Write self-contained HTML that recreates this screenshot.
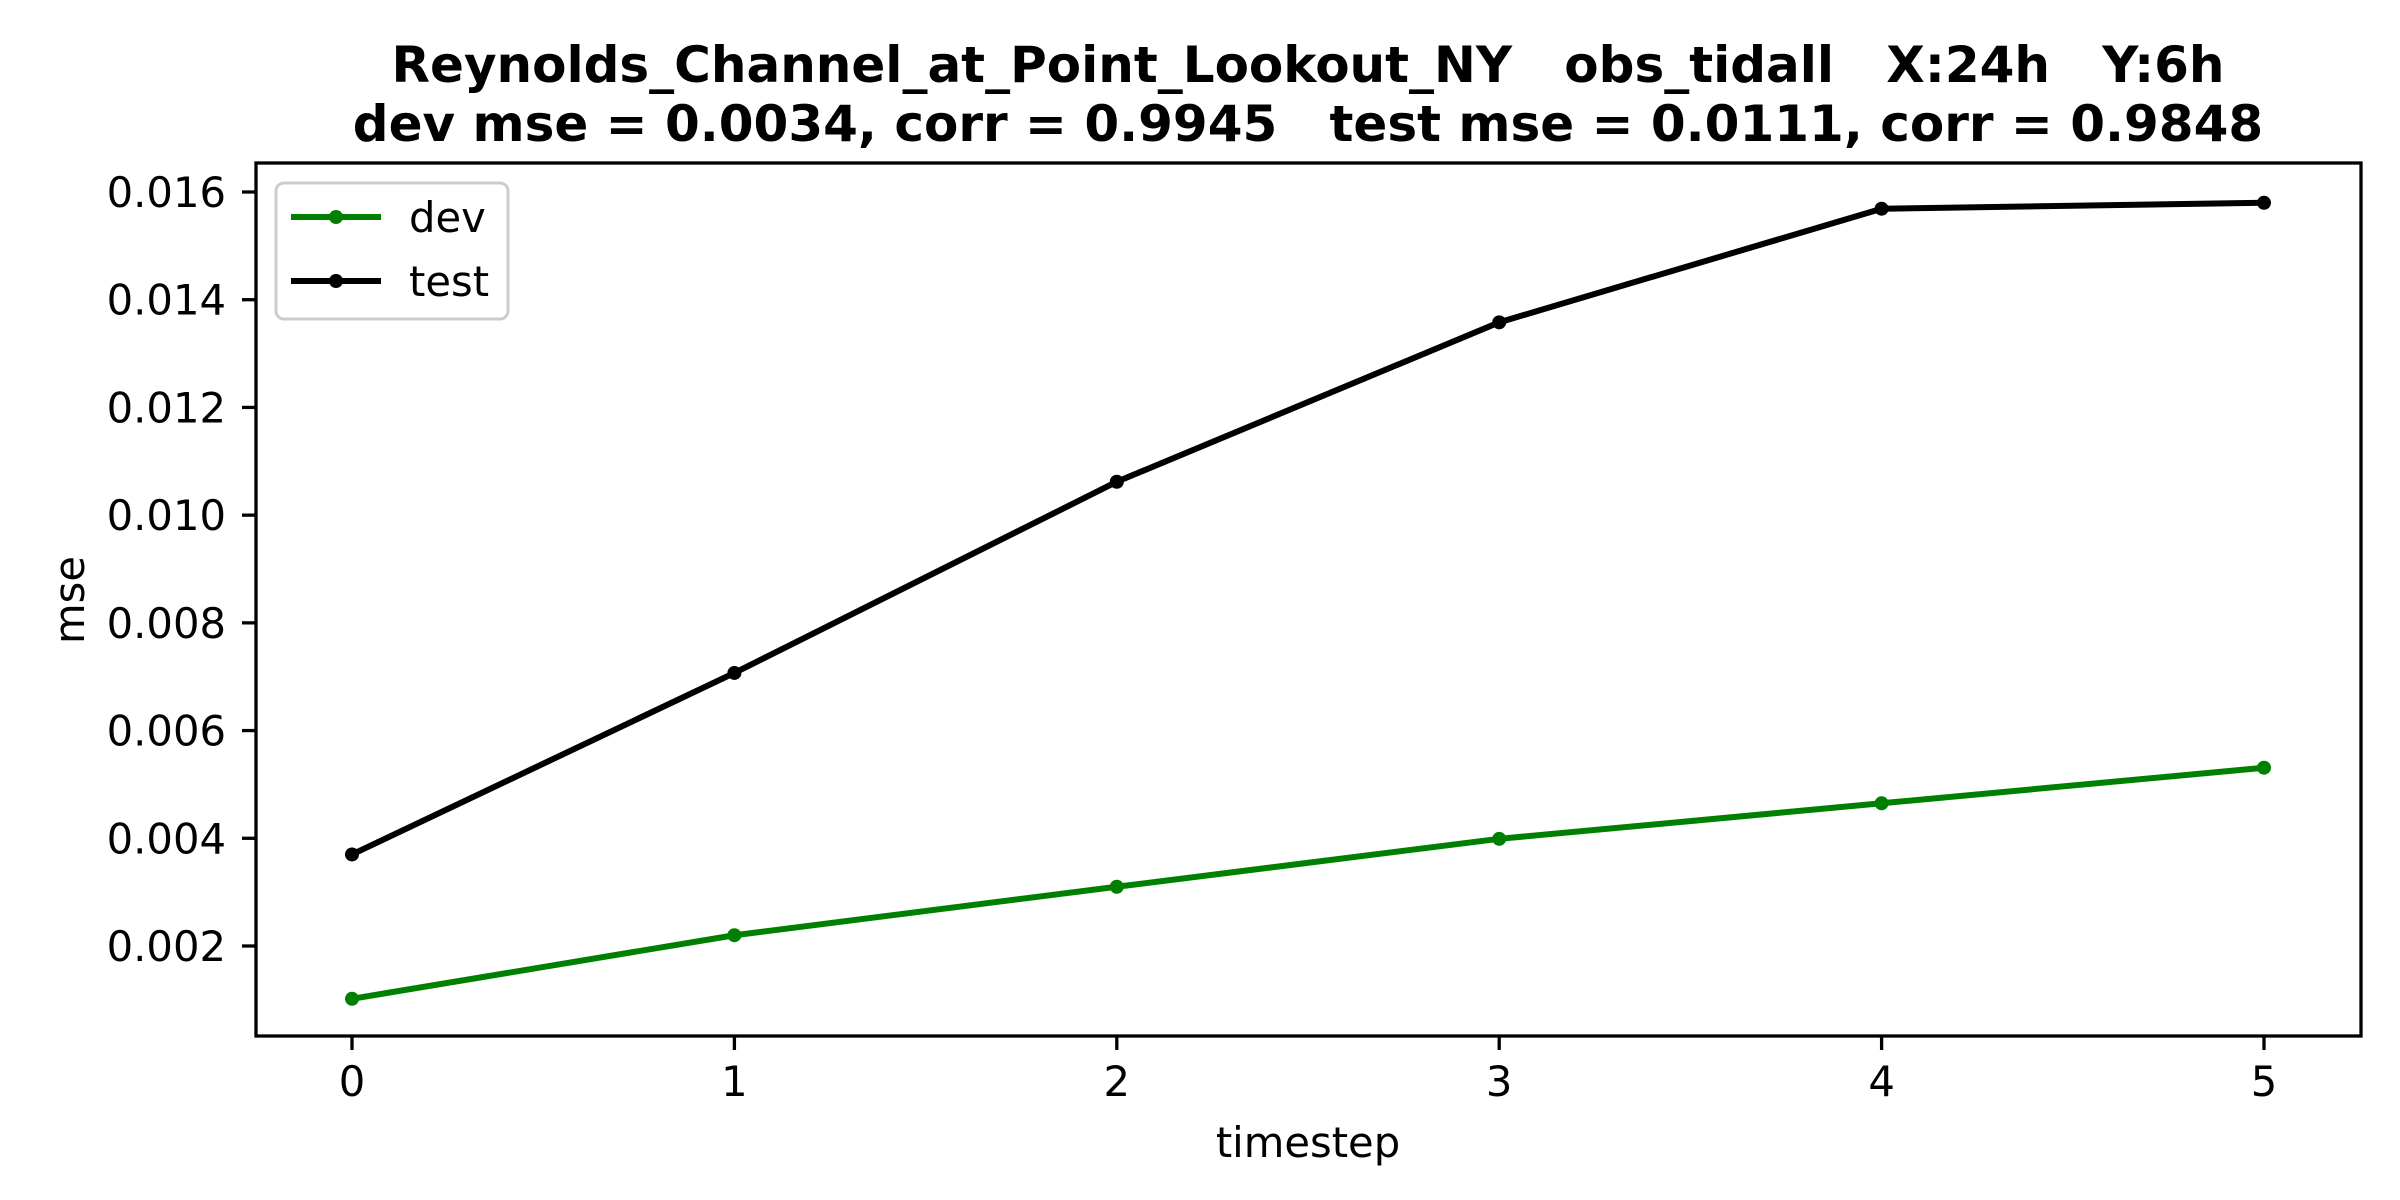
<!DOCTYPE html>
<html><head><meta charset="utf-8"><style>
html,body{margin:0;padding:0;background:#fff;}
svg{display:block;font-family:"DejaVu Sans","Liberation Sans",sans-serif;}
.pre{white-space:pre;}
</style></head><body>
<svg id="chart" width="2400" height="1200" viewBox="0 0 2400 1200">
<text class="pre" xml:space="preserve" x="1308" y="82" text-anchor="middle" font-size="50" font-weight="bold">Reynolds_Channel_at_Point_Lookout_NY   obs_tidall   X:24h   Y:6h</text>
<text class="pre" xml:space="preserve" x="1308" y="141" text-anchor="middle" font-size="50" font-weight="bold">dev mse = 0.0034, corr = 0.9945   test mse = 0.0111, corr = 0.9848</text>
<g id="axes"></g>
<rect x="256" y="163" width="2105" height="873" fill="none" stroke="#000" stroke-width="3.3"/>
<text x="1308" y="1157" text-anchor="middle" font-size="41.7">timestep</text>
<text transform="translate(84,600) rotate(-90)" text-anchor="middle" font-size="41.7">mse</text>
<g>
<rect x="276" y="183" width="232" height="136" rx="8" fill="#fff" fill-opacity="0.8" stroke="#ccc" stroke-width="3"/>
<g>
<line x1="291" y1="217" x2="381" y2="217" stroke="#008000" stroke-width="6"/><circle cx="336" cy="217" r="7" fill="#008000"/>
<text x="409" y="232" font-size="41.7">dev</text></g>
<g>
<line x1="291" y1="281" x2="381" y2="281" stroke="#000" stroke-width="6"/><circle cx="336" cy="281" r="7" fill="#000"/>
<text x="409" y="296" font-size="41.7">test</text></g>
</g>
</svg>
<script>
const timesteps=[0,1,2,3,4,5];
const devValues=[0.00102,0.0022,0.0031,0.00399,0.00465,0.00531];
const testValues=[0.0037,0.00707,0.01062,0.01358,0.01569,0.0158];
const yTicks=[0.002,0.004,0.006,0.008,0.010,0.012,0.014,0.016];
const yTickLabels=["0.002","0.004","0.006","0.008","0.010","0.012","0.014","0.016"];
const NS="http://www.w3.org/2000/svg";
const g=document.getElementById('axes');
function xs(v){return 352+(v-0)*(2264-352)/5;}
function ys(v){return 946-(v-0.002)*(946-192)/0.014;}
function mk(t,a){const e=document.createElementNS(NS,t);for(const k in a)e.setAttribute(k,a[k]);g.appendChild(e);return e;}
timesteps.forEach(t=>{
  const l=mk('line',{x1:xs(t),x2:xs(t),y1:1036,y2:1050,stroke:'#000','stroke-width':3.3});
  
  
  const tx=mk('text',{x:xs(t),y:1096,'text-anchor':'middle','font-size':41.7});tx.textContent=String(t);
  
  
});
yTicks.forEach((v,i)=>{
  const l=mk('line',{x1:242,x2:256,y1:ys(v),y2:ys(v),stroke:'#000','stroke-width':3.3});
  
  
  const tx=mk('text',{x:226,y:ys(v)+15,'text-anchor':'end','font-size':41.7});tx.textContent=yTickLabels[i];
  
  
});
function series(vals,color,name){
  const p=mk('polyline',{points:vals.map((v,i)=>xs(timesteps[i])+','+ys(v)).join(' '),fill:'none',stroke:color,'stroke-width':6});
  
  
  vals.forEach((v,i)=>{
    const c=mk('circle',{cx:xs(timesteps[i]),cy:ys(v),r:7,fill:color});
    
    
  });
}
series(devValues,'#008000','dev');
series(testValues,'#000000','test');
</script>
</body></html>
